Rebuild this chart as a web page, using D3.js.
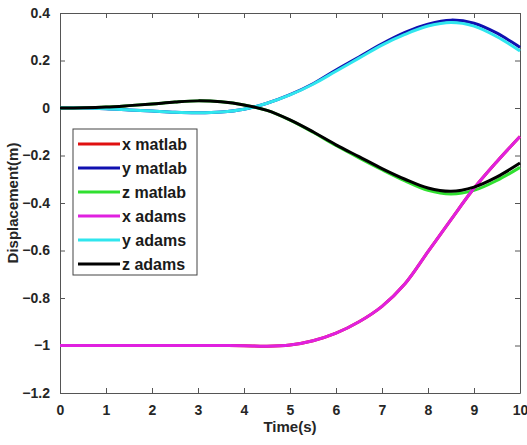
<!DOCTYPE html>
<html>
<head>
<meta charset="utf-8">
<script src="https://cdn.jsdelivr.net/npm/d3@7"></script>
<style>
  body { margin: 0; background: #fff; }
  .tick text { font-family: "Liberation Sans", Arial, sans-serif; font-weight: bold; font-size: 14px; fill: #262626; }
  .tick line { stroke: #555; }
  .domain { stroke: #555; }
  .lbl { font-family: "Liberation Sans", Arial, sans-serif; font-weight: bold; font-size: 15px; fill: #262626; }
  .leg { font-family: "Liberation Sans", Arial, sans-serif; font-weight: bold; font-size: 16px; fill: #1a1a1a; }
</style>
</head>
<body>
<div id="chart"></div>
<script>
// time samples (s)
var time = [0, 0.5, 1, 1.5, 2, 2.5, 3, 3.5, 4, 4.5, 5, 5.5, 6, 6.5, 7, 7.5, 8, 8.5, 9, 9.5, 10];

// displacement series (m)
var xMatlab = [-1, -1, -1, -1, -1, -1, -1, -1, -1.001, -1.003, -0.998, -0.98, -0.948, -0.9, -0.835, -0.74, -0.605, -0.47, -0.338, -0.225, -0.12];
var yMatlab = [0, 0, -0.003, -0.008, -0.013, -0.018, -0.02, -0.017, -0.005, 0.02, 0.056, 0.102, 0.16, 0.215, 0.27, 0.318, 0.353, 0.37, 0.357, 0.315, 0.255];
var zMatlab = [0, 0.001, 0.004, 0.01, 0.017, 0.025, 0.03, 0.026, 0.013, -0.01, -0.051, -0.102, -0.158, -0.21, -0.26, -0.307, -0.347, -0.362, -0.347, -0.305, -0.25];
var xAdams = [-1, -1, -1, -1, -1, -1, -1, -1, -1.001, -1.003, -0.998, -0.98, -0.948, -0.9, -0.835, -0.74, -0.605, -0.47, -0.338, -0.225, -0.12];
var yAdams = [0, 0, -0.003, -0.008, -0.013, -0.018, -0.02, -0.017, -0.005, 0.02, 0.055, 0.1, 0.155, 0.21, 0.265, 0.31, 0.345, 0.36, 0.345, 0.3, 0.24];
var zAdams = [0, 0.001, 0.004, 0.01, 0.017, 0.025, 0.03, 0.026, 0.013, -0.01, -0.05, -0.1, -0.155, -0.205, -0.255, -0.3, -0.337, -0.351, -0.333, -0.29, -0.232];

var seriesNames = ["x matlab", "y matlab", "z matlab", "x adams", "y adams", "z adams"];
var seriesValues = [xMatlab, yMatlab, zMatlab, xAdams, yAdams, zAdams];
var seriesColors = ["#e01010", "#1010b0", "#30e030", "#e020e0", "#30e6ee", "#000000"];

var xTicks = [0, 1, 2, 3, 4, 5, 6, 7, 8, 9, 10];
var yTicks = [-1.2, -1, -0.8, -0.6, -0.4, -0.2, 0, 0.2, 0.4];

var margin = {top: 13, right: 7, bottom: 52, left: 60},
  W = 527, H = 445,
  width = W - margin.left - margin.right,
  height = H - margin.top - margin.bottom;

var svg = d3.select("#chart").append("svg")
  .attr("width", W)
  .attr("height", H);

var g = svg.append("g")
  .attr("transform", "translate(" + margin.left + "," + margin.top + ")");

var x = d3.scaleLinear().domain([0, 10]).range([0, width]);
var y = d3.scaleLinear().domain([-1.2, 0.4]).range([height, 0]);

// box axes with inward ticks, MATLAB style
g.append("g")
  .attr("transform", "translate(0," + height + ")")
  .call(d3.axisBottom(x).tickValues(xTicks).tickSizeInner(-5).tickSizeOuter(0).tickPadding(12));
g.append("g")
  .call(d3.axisTop(x).tickValues(xTicks).tickSizeInner(-5).tickSizeOuter(0).tickFormat(""));
g.append("g")
  .call(d3.axisLeft(y).tickValues(yTicks).tickSizeInner(-5).tickSizeOuter(0).tickPadding(10)
    .tickFormat(function (d) { return d3.format("")(+d.toFixed(1)); }));
g.append("g")
  .attr("transform", "translate(" + width + ",0)")
  .call(d3.axisRight(y).tickValues(yTicks).tickSizeInner(-5).tickSizeOuter(0).tickFormat(""));

// lines
var line = d3.line()
  .x(function (d) { return x(d[0]); })
  .y(function (d) { return y(d[1]); })
  .curve(d3.curveCatmullRom.alpha(0.5));

seriesValues.forEach(function (vals, i) {
  g.append("path")
    .datum(time.map(function (t, j) { return [t, vals[j]]; }))
    .attr("fill", "none")
    .attr("stroke", seriesColors[i])
    .attr("stroke-width", 3)
    .attr("d", line);
});

// axis labels
svg.append("text")
  .attr("class", "lbl")
  .attr("x", margin.left + width / 2)
  .attr("y", 432)
  .attr("text-anchor", "middle")
  .text("Time(s)");

svg.append("text")
  .attr("class", "lbl")
  .attr("transform", "translate(18," + (margin.top + height / 2) + ") rotate(-90)")
  .attr("text-anchor", "middle")
  .text("Displacement(m)");

// legend
var leg = svg.append("g").attr("transform", "translate(73,129)");
leg.append("rect")
  .attr("width", 124)
  .attr("height", 146)
  .attr("fill", "#fff")
  .attr("stroke", "#444")
  .attr("stroke-width", 1);

seriesNames.forEach(function (name, i) {
  var ry = 15 + i * 24;
  leg.append("line")
    .attr("x1", 5).attr("x2", 47)
    .attr("y1", ry).attr("y2", ry)
    .attr("stroke", seriesColors[i])
    .attr("stroke-width", 3);
  leg.append("text")
    .attr("class", "leg")
    .attr("x", 49)
    .attr("y", ry)
    .attr("dy", "0.35em")
    .text(name);
});
</script>
</body>
</html>
